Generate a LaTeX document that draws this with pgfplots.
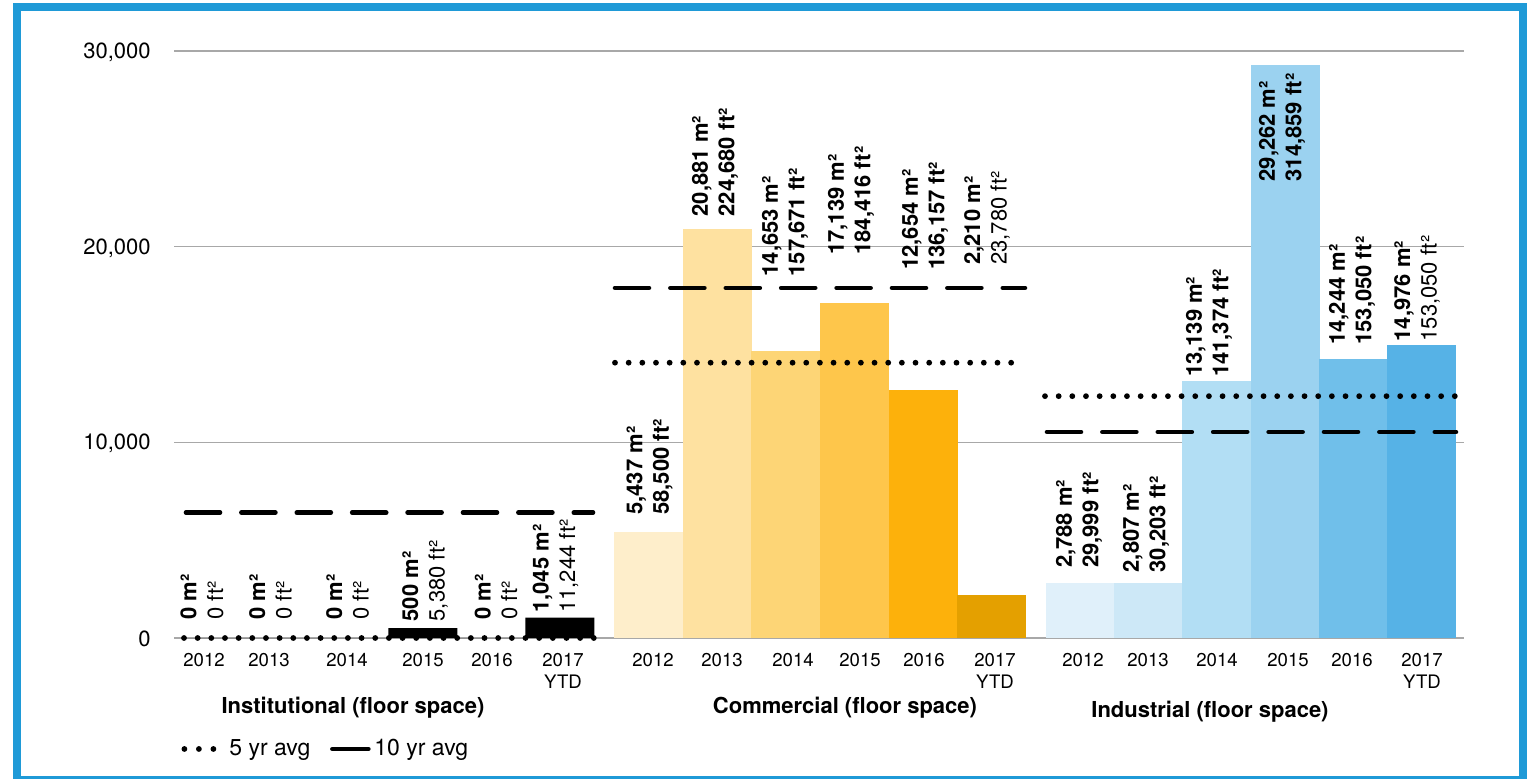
\documentclass[border=0pt]{standalone}
\usepackage{fontspec}
\setmainfont{TeX Gyre Heros}
\usepackage{pgfplots}
\pgfplotsset{compat=1.18}
\definecolor{frameblue}{HTML}{1F9AD7}
\definecolor{gridgray}{HTML}{A8A8A8}
\definecolor{c1}{HTML}{FEEECB}
\definecolor{c2}{HTML}{FEE1A0}
\definecolor{c3}{HTML}{FDD576}
\definecolor{c4}{HTML}{FEC64B}
\definecolor{c5}{HTML}{FDB10B}
\definecolor{c6}{HTML}{E4A000}
\definecolor{i1}{HTML}{E0F0FA}
\definecolor{i2}{HTML}{CDE8F7}
\definecolor{i3}{HTML}{B2DEF4}
\definecolor{i4}{HTML}{9BD2F0}
\definecolor{i5}{HTML}{70BFEA}
\definecolor{i6}{HTML}{56B2E6}
\newcommand\lblfont{\fontsize{11}{13.3}\selectfont}
\newcommand\lbl[4]{\node[rotate=90, anchor=west, inner sep=0pt, align=left, font=\lblfont] at (axis cs:#1,#2) {\textbf{#3}\\#4};}
\pgfplotsset{
  bstyle/.style={ybar, bar width=69, bar shift=0pt, draw=none, forget plot},
  dotline/.style={black, line width=2.9pt, line cap=round, dash pattern=on 0pt off 6.83pt},
  dashline/.style={black, line width=2.3pt, line cap=round, dash pattern=on 17pt off 10.7pt},
}
\begin{document}
\begin{tikzpicture}[x=1pt,y=1pt]
\path[use as bounding box] (0,0) rectangle (764,389);
\draw[frameblue, line width=4pt] (8.25,-1) rectangle (761.25,385.25);
\begin{axis}[
  at={(87pt,70pt)}, anchor=south west,
  scale only axis, width=645pt, height=293.5pt,
  xmin=174, xmax=1464, ymin=0, ymax=30000,
  clip=false,
  axis line style={draw=none},
  major tick length=0pt,
  ymajorgrids, grid style={color=gridgray, line width=0.6pt},
  ytick={0,10000,20000,30000},
  scaled y ticks=false,
  /pgf/number format/1000 sep={,},
  /pgf/number format/assume math mode=true,
  yticklabel style={font=\fontsize{11}{13}\selectfont, inner sep=0pt, xshift=-11.5pt, yshift=-0.6pt},
  xtick={204,269,347,423,492,563,653,722,793,860,924,995,1083,1148,1217,1288,1352,1422},
  xticklabels={2012,2013,2014,2015,2016,{2017\\YTD},2012,2013,2014,2015,2016,{2017\\YTD},2012,2013,2014,2015,2016,{2017\\YTD}},
  xticklabel style={font=\fontsize{9.3}{11}\selectfont, align=center, inner sep=0pt, anchor=north, yshift=-7.25pt},
  legend columns=2,
  legend cell align=left,
  legend style={at={(axis cs:181.5,-5672)}, anchor=west, draw=none, fill=none, inner sep=0pt, outer sep=0pt,
    font=\fontsize{11.5}{13}\selectfont, column sep=0pt, nodes={inner sep=0pt}},
]
% Institutional bars
\addplot[bstyle, fill=black] coordinates {(217.25,0) (285.75,0) (354.25,0) (422.75,500) (491.25,0) (559.75,1045)};
% Commercial bars
\addplot[bstyle, fill=c1] coordinates {(648.3,5437)};
\addplot[bstyle, fill=c2] coordinates {(717,20881)};
\addplot[bstyle, fill=c3] coordinates {(785.7,14653)};
\addplot[bstyle, fill=c4] coordinates {(854.3,17139)};
\addplot[bstyle, fill=c5] coordinates {(923,12654)};
\addplot[bstyle, fill=c6] coordinates {(991.7,2210)};
% Industrial bars
\addplot[bstyle, fill=i1] coordinates {(1080.2,2788)};
\addplot[bstyle, fill=i2] coordinates {(1148.5,2807)};
\addplot[bstyle, fill=i3] coordinates {(1216.8,13139)};
\addplot[bstyle, fill=i4] coordinates {(1285.2,29262)};
\addplot[bstyle, fill=i5] coordinates {(1353.5,14244)};
\addplot[bstyle, fill=i6] coordinates {(1421.8,14976)};
% averages
\addplot[dotline, legend image code/.code={
    \path[draw=none, fill=none] (0pt,-2pt) rectangle (23.75pt,2pt);
    \draw[black, solid, line width=2.9pt, line cap=round, dash pattern=on 0pt off 7.25pt] (1.25pt,0pt) -- (16pt,0pt);}]
  coordinates {(184,0) (594,0)};
\addlegendentry{5 yr avg}
\addplot[dashline, legend image code/.code={
    \path[draw=none, fill=none] (0pt,-2pt) rectangle (32pt,2pt);
    \draw[black, solid, line width=2.3pt, line cap=round] (11pt,0pt) -- (29pt,0pt);}]
  coordinates {(186,6410) (593,6410)};
\addlegendentry{10 yr avg}
\addplot[dotline, forget plot] coordinates {(615,14070) (1014,14070)};
\addplot[dashline, forget plot] coordinates {(615,17890) (1025,17890)};
\addplot[dotline, forget plot] coordinates {(1045,12360) (1456,12360)};
\addplot[dashline, forget plot] coordinates {(1047,10530) (1456,10530)};
% value labels
\lbl{202}{920}{0 m²}{0 ft²}
\lbl{270.5}{920}{0 m²}{0 ft²}
\lbl{347.5}{920}{0 m²}{0 ft²}
\lbl{425}{833}{500 m²}{5,380 ft²}
\lbl{496}{920}{0 m²}{0 ft²}
\lbl{555.5}{1277}{1,045 m²}{11,244 ft²}
\lbl{649.5}{6285}{5,437 m²}{\textbf{58,500 ft²}}
\lbl{715}{21530}{20,881 m²}{\textbf{224,680 ft²}}
\lbl{785}{18460}{14,653 m²}{\textbf{157,671 ft²}}
\lbl{851}{19570}{17,139 m²}{\textbf{184,416 ft²}}
\lbl{925}{18800}{12,654 m²}{\textbf{136,157 ft²}}
\lbl{987}{19060}{2,210 m²}{23,780 ft²}
\lbl{1079}{3562}{2,788 m²}{\textbf{29,999 ft²}}
\lbl{1146}{3337}{2,807 m²}{\textbf{30,203 ft²}}
\lbl{1209}{13320}{13,139 m²}{\textbf{141,374 ft²}}
\lbl{1282}{23315}{29,262 m²}{\textbf{314,859 ft²}}
\lbl{1352}{14972}{14,244 m²}{\textbf{153,050 ft²}}
\lbl{1417}{15140}{14,976 m²}{153,050 ft²}
% group titles
\node[font=\bfseries\fontsize{11}{13}\selectfont] at (axis cs:353,-3577) {Institutional (floor space)};
\node[font=\bfseries\fontsize{11}{13}\selectfont] at (axis cs:845,-3577) {Commercial (floor space)};
\node[font=\bfseries\fontsize{11}{13}\selectfont] at (axis cs:1210,-3781) {Industrial (floor space)};
\end{axis}
\end{tikzpicture}
\end{document}
